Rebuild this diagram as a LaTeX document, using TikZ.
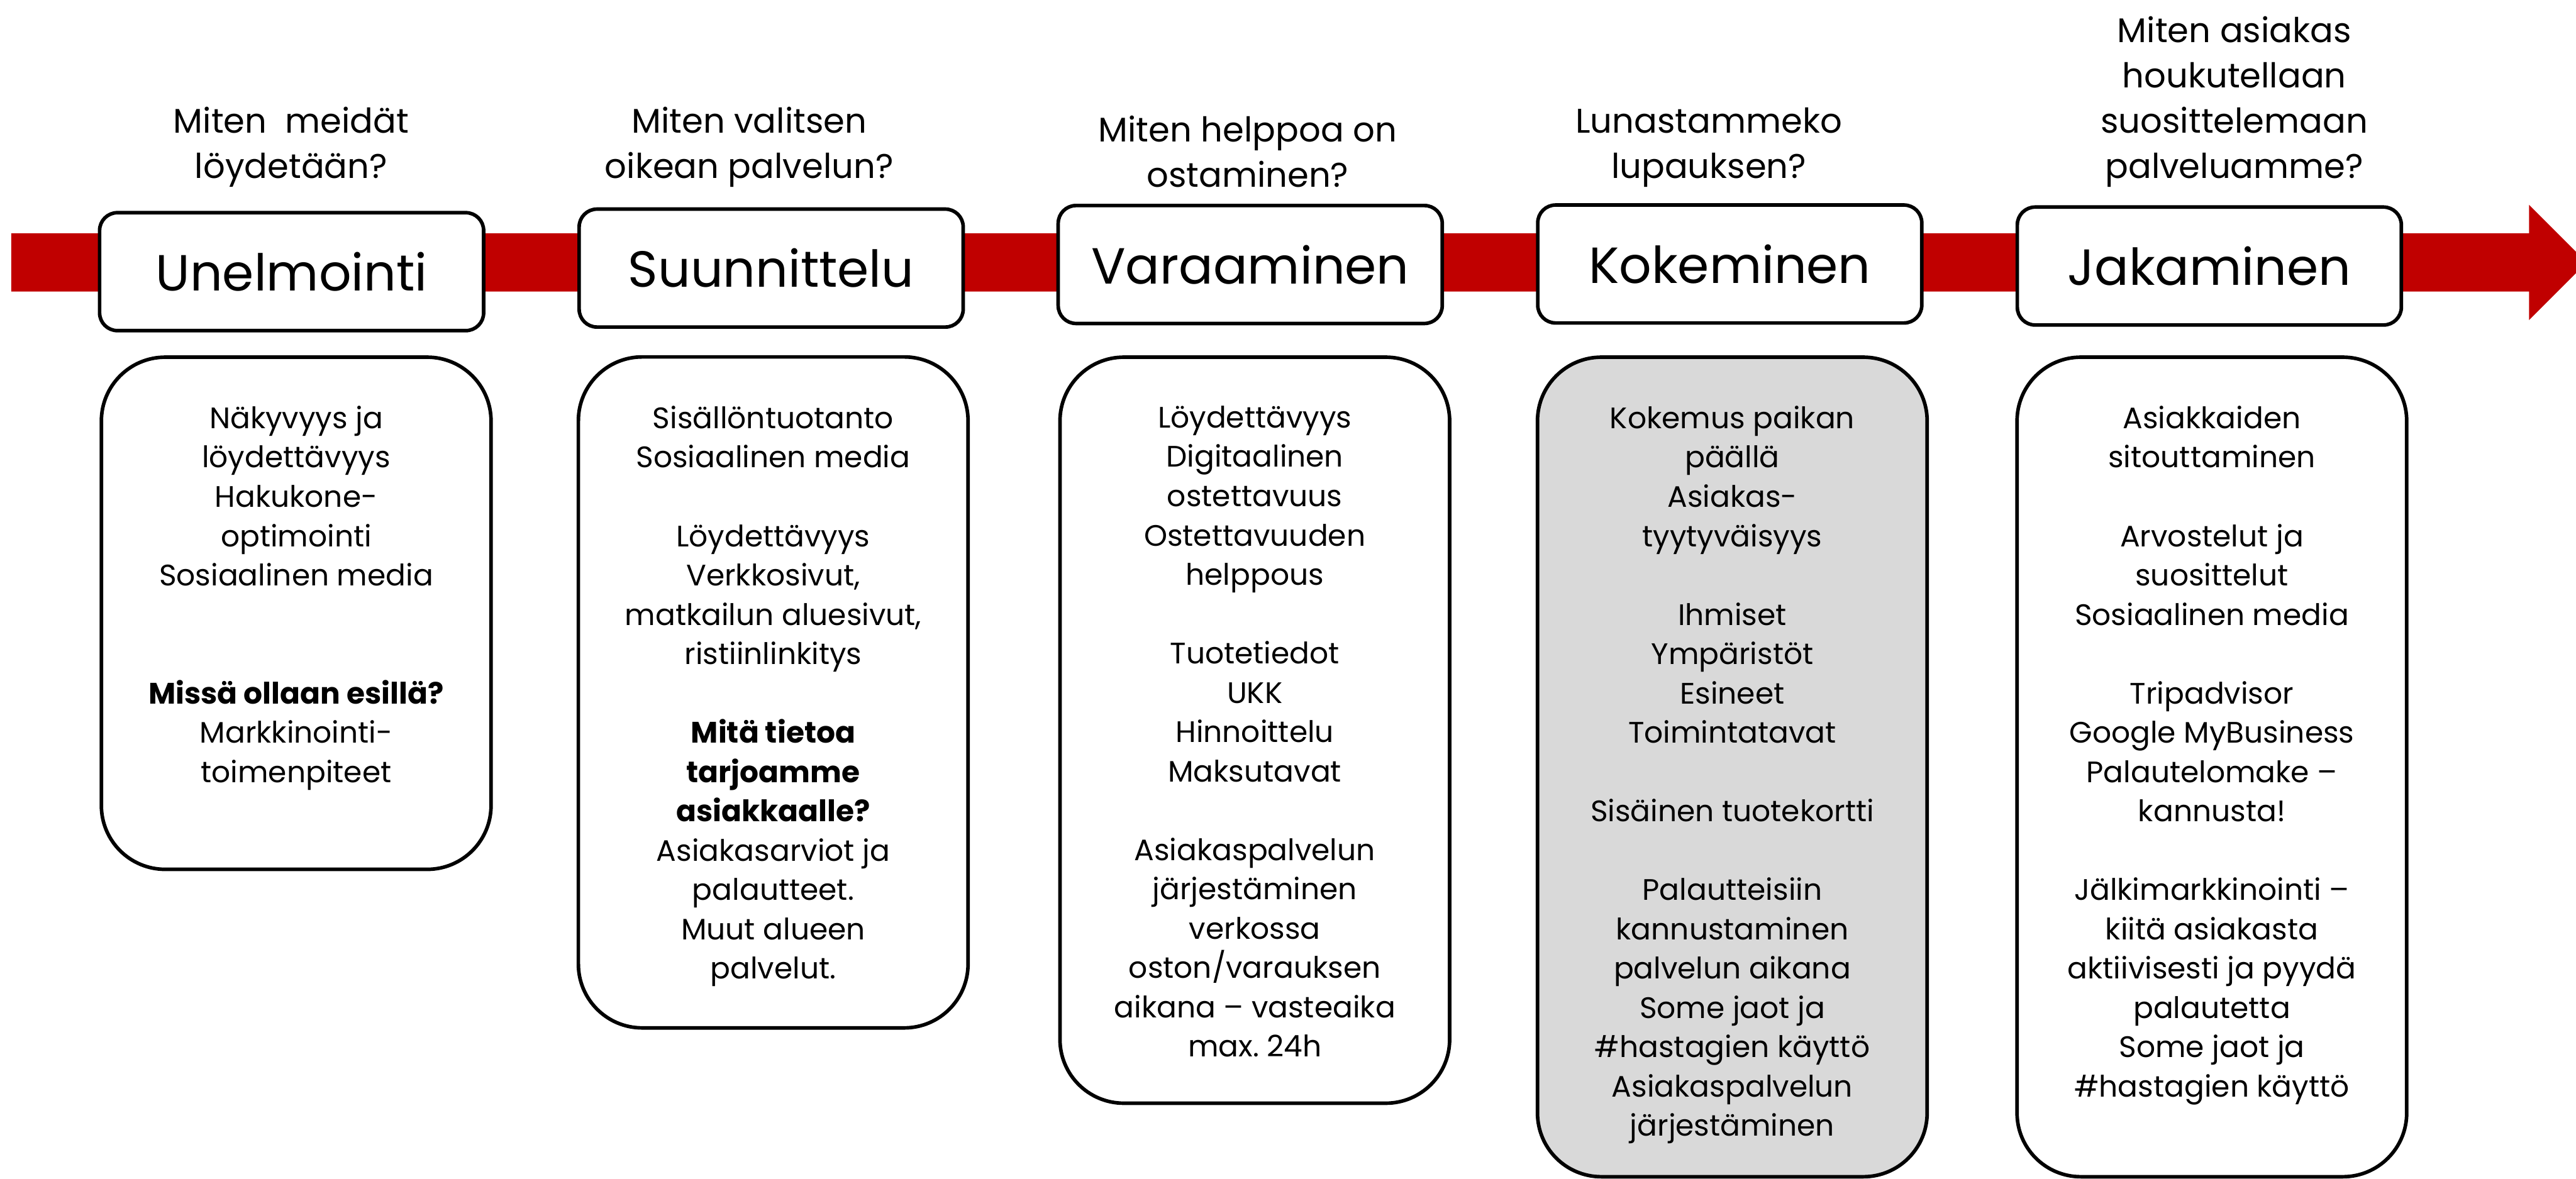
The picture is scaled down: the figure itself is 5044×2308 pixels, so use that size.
\documentclass[tikz,border=0pt]{standalone}
\usepackage{fontspec}
\setmainfont{Poppins}
\newfontfamily\bodyface{Poppins}
\frenchspacing
\definecolor{arrowred}{RGB}{192,0,0}
\definecolor{cardgrey}{RGB}{217,217,217}
\tikzset{
  band/.style={fill=arrowred, draw=none},
  stagebox/.style={draw=black, line width=1.4pt, rounded corners=7pt, fill=white,
    minimum width=150.4pt, minimum height=46.2pt, inner sep=0pt,
    font=\fontsize{19.9}{24}\selectfont},
  card/.style={draw=black, line width=1.4pt, rounded corners=25pt, fill=white,
    minimum width=152.6pt, inner sep=0pt},
  cardtext/.style={align=center, inner sep=0pt, anchor=north,
    font=\bodyface\fontsize{11.6}{15.4}\selectfont},
  question/.style={align=center, inner sep=0pt, anchor=south,
    font=\fontsize{13.4}{17.8}\selectfont}
}
\begin{document}
\begin{tikzpicture}[x=0.2pt, y=-0.2pt]
\useasboundingbox (0,0) rectangle (5044,2308);
\clip (0,0) rectangle (5044,2308);

% timeline arrow
\fill[band] (22,457) -- (4952,457) -- (4952,401) -- (5065,514) -- (4952,627)
  -- (4952,571) -- (22,571) -- cycle;

% stage boxes on the timeline
\node[stagebox] (s1) at (571,532) {Unelmointi};
\node[stagebox] (s2) at (1510,525) {Suunnittelu};
\node[stagebox] (s3) at (2448,518) {Varaaminen};
\node[stagebox] (s4) at (3387,517) {Kokeminen};
\node[stagebox] (s5) at (4326,521) {Jakaminen};

% guiding questions above the stages
\node[question] (q1) at (570,368) {Miten\ \ meidät\\löydetään?};
\node[question] (q2) at (1467,368) {Miten valitsen\\oikean palvelun?};
\node[question] (q3) at (2443,368) {Miten helppoa on\\ostaminen?};
\node[question] (q4) at (3346,368) {Lunastammeko\\lupauksen?};
\node[question] (q5) at (4375,368) {Miten asiakas\\houkutellaan\\suosittelemaan\\palveluamme?};

% content cards
\node[card, minimum height=200.6pt] (c1) at (580,1201) {};
\node[card, minimum height=262.8pt] (c2) at (1514,1356) {};
\node[card, minimum height=292.2pt] (c3) at (2457,1430) {};
\node[card, fill=cardgrey, minimum height=321pt] (c4) at (3392,1502) {};
\node[card, minimum height=321pt] (c5) at (4331,1502) {};

\node[cardtext] (t1) at (580,794) {Näkyvyys ja\\löydettävyys\\Hakukone-\\optimointi\\Sosiaalinen media\\[15.4pt]\\
  \textbf{Missä ollaan esillä?}\\Markkinointi-\\toimenpiteet};
\node[cardtext] (t2) at (1514,794) {Sisällöntuotanto\\Sosiaalinen media\\[15.4pt]Löydettävyys\\Verkkosivut,\\matkailun aluesivut,\\ristiinlinkitys\\[15.4pt]
  \textbf{Mitä tietoa}\\\textbf{tarjoamme}\\\textbf{asiakkaalle?}\\Asiakasarviot ja\\palautteet.\\Muut alueen\\palvelut.};
\node[cardtext] (t3) at (2457,794) {Löydettävyys\\Digitaalinen\\ostettavuus\\Ostettavuuden\\helppous\\[15.4pt]Tuotetiedot\\UKK\\Hinnoittelu\\Maksutavat\\[15.4pt]
  Asiakaspalvelun\\järjestäminen\\verkossa\\oston/varauksen\\aikana – vasteaika\\max. 24h};
\node[cardtext] (t4) at (3392,794) {Kokemus paikan\\päällä\\Asiakas-\\tyytyväisyys\\[15.4pt]Ihmiset\\Ympäristöt\\Esineet\\Toimintatavat\\[15.4pt]
  Sisäinen tuotekortti\\[15.4pt]Palautteisiin\\kannustaminen\\palvelun aikana\\Some jaot ja\\\#hastagien käyttö\\Asiakaspalvelun\\järjestäminen};
\node[cardtext] (t5) at (4331,794) {Asiakkaiden\\sitouttaminen\\[15.4pt]Arvostelut ja\\suosittelut\\Sosiaalinen media\\[15.4pt]Tripadvisor\\Google MyBusiness\\Palautelomake –\\kannusta!\\[15.4pt]
  Jälkimarkkinointi –\\kiitä asiakasta\\aktiivisesti ja pyydä\\palautetta\\Some jaot ja\\\#hastagien käyttö};
\end{tikzpicture}
\end{document}
